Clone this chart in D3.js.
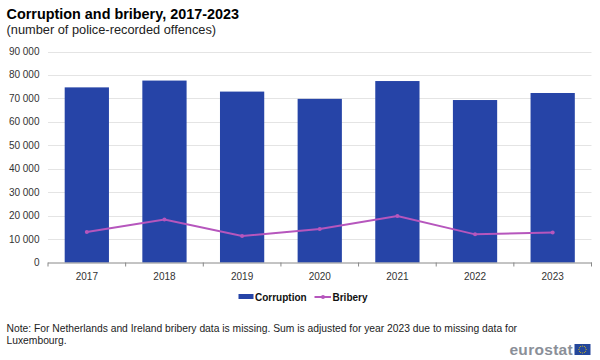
<!DOCTYPE html>
<html>
<head>
<meta charset="utf-8">
<script src="https://cdn.jsdelivr.net/npm/d3@7"></script>
<style>
body { margin: 0; background: #fff; }
svg { display: block; font-family: "Liberation Sans", Arial, sans-serif; }
</style>
</head>
<body>
<svg></svg>
<script>
const years = ['2017', '2018', '2019', '2020', '2021', '2022', '2023'];
const corruption = [74700, 77600, 72900, 69800, 77400, 69300, 72300];
const bribery = [13000, 18300, 11300, 14300, 19800, 12000, 12800];
const yTicks = [0, 10000, 20000, 30000, 40000, 50000, 60000, 70000, 80000, 90000];
const noteLines = [
    'Note: For Netherlands  and Ireland bribery data is missing.  Sum is adjusted for year 2023 due to missing  data for',
    'Luxembourg.'
];

const width = 600;
const height = 360;
const left = 48;
const right = 591.5;
const top_ = 51.5;
const bottom = 262.5;
const blue = '#2644a7';
const purple = '#b656bd';

const svg = d3.select('svg').attr('width', width).attr('height', height);

const x = d3.scaleBand().domain(years).range([left, right]).paddingInner(0.43).paddingOuter(0.215);
const xc = function(d) { return x(d) + x.bandwidth() / 2; };
const y = d3.scaleLinear().domain([0, 90000]).range([bottom, top_]);
const fmt = function(d) { return d3.format(',')(d).replace(',', ' '); };

// titles
svg.append('text').attr('x', 6.5).attr('y', 18.5).attr('font-size', 14.4).attr('font-weight', 'bold')
    .attr('fill', '#000').text('Corruption and bribery, 2017-2023');
svg.append('text').attr('x', 6.5).attr('y', 33.5).attr('font-size', 12.8)
    .attr('fill', '#222').text('(number of police-recorded offences)');

// gridlines
svg.append('g').selectAll('line').data(yTicks.slice(1)).enter().append('line')
    .attr('x1', left).attr('x2', right)
    .attr('y1', function(d) { return Math.round(y(d)) + 0.5; })
    .attr('y2', function(d) { return Math.round(y(d)) + 0.5; })
    .attr('stroke', '#e4e4e4').attr('stroke-width', 1);

// y labels
svg.append('g').attr('font-size', 10).attr('fill', '#333').attr('text-anchor', 'end')
    .selectAll('text').data(yTicks).enter().append('text')
    .attr('x', 39.5).attr('y', function(d) { return y(d); }).attr('dy', '0.35em')
    .text(fmt);

// bars
svg.append('g').selectAll('rect').data(years).enter().append('rect')
    .attr('x', function(d) { return x(d); })
    .attr('y', function(d, i) { return y(corruption[i]); })
    .attr('width', x.bandwidth())
    .attr('height', function(d, i) { return bottom - y(corruption[i]); })
    .attr('fill', blue);

// x axis
const xAxis = svg.append('g').attr('transform', `translate(0, ${bottom})`)
    .call(d3.axisBottom(x).tickSize(0).tickPadding(10));
xAxis.select('.domain').remove();
xAxis.append('line').attr('x1', left).attr('x2', right + 0.5).attr('y1', 0.5).attr('y2', 0.5)
    .attr('stroke', '#888');
xAxis.selectAll('line.sep').data(d3.range(years.length + 1)).enter().append('line')
    .attr('class', 'sep')
    .attr('x1', function(d) { return left + d * x.step(); })
    .attr('x2', function(d) { return left + d * x.step(); })
    .attr('y1', 0).attr('y2', 4).attr('stroke', '#888');
xAxis.selectAll('text').attr('font-size', 10).attr('fill', '#333')
    .attr('font-family', '"Liberation Sans", Arial, sans-serif');

// bribery line
const line = d3.line().x(function(d, i) { return xc(years[i]); }).y(function(d) { return y(d); });
svg.append('path').datum(bribery).attr('d', line).attr('fill', 'none')
    .attr('stroke', purple).attr('stroke-width', 2);
svg.append('g').selectAll('circle').data(bribery).enter().append('circle')
    .attr('cx', function(d, i) { return xc(years[i]); })
    .attr('cy', function(d) { return y(d); })
    .attr('r', 2).attr('fill', purple);

// legend
const legend = svg.append('g').attr('font-size', 10).attr('font-weight', 'bold').attr('fill', '#111');
legend.append('rect').attr('x', 238.5).attr('y', 294).attr('width', 15).attr('height', 5).attr('fill', blue);
legend.append('text').attr('x', 255).attr('y', 300.5).text('Corruption');
legend.append('line').attr('x1', 314.5).attr('x2', 331).attr('y1', 297).attr('y2', 297)
    .attr('stroke', purple).attr('stroke-width', 2);
legend.append('circle').attr('cx', 323).attr('cy', 297).attr('r', 2).attr('fill', purple);
legend.append('text').attr('x', 332.5).attr('y', 300.5).text('Bribery');

// note
svg.append('g').attr('font-size', 10.3).attr('fill', '#222')
    .selectAll('text').data(noteLines).enter().append('text')
    .attr('x', 6.5).attr('y', function(d, i) { return 332 + i * 11.5; })
    .text(function(d) { return d; });

// eurostat logo
svg.append('text').attr('x', 573).attr('y', 355).attr('text-anchor', 'end')
    .attr('font-size', 15.5).attr('font-weight', 'bold').attr('letter-spacing', 0.3)
    .attr('fill', '#8a8f98').text('eurostat');
svg.append('rect').attr('x', 574.5).attr('y', 344).attr('width', 16).attr('height', 11).attr('fill', '#24479b');
svg.append('g').selectAll('circle').data(d3.range(12)).enter().append('circle')
    .attr('cx', function(d) { return 582.5 + 3.6 * Math.cos(d * Math.PI / 6); })
    .attr('cy', function(d) { return 349.5 + 3.6 * Math.sin(d * Math.PI / 6); })
    .attr('r', 0.5).attr('fill', '#f2d000');
</script>
</body>
</html>
